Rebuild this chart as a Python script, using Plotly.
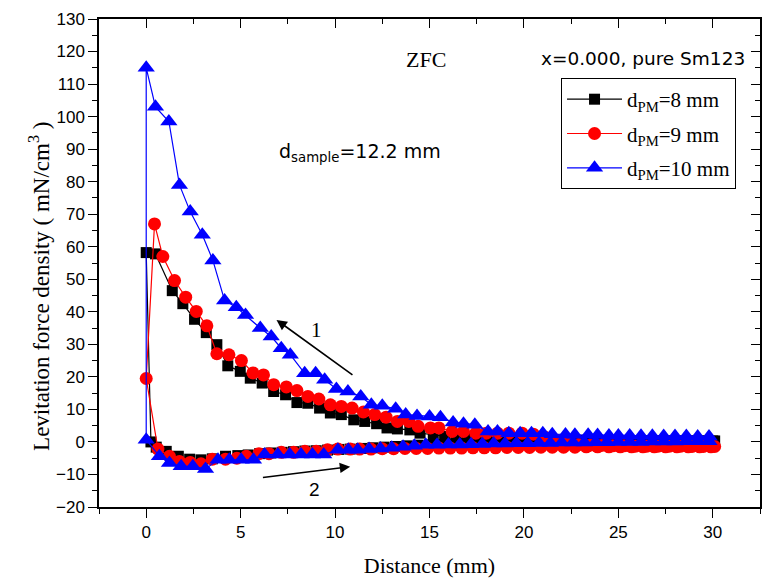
import plotly.graph_objects as go

# Levitation force density vs. distance, ZFC, three permanent-magnet gaps.
# Each curve: approach branch (30 mm -> 0) followed by the return branch (0 -> 30 mm).

# d_PM = 8 mm
pm8_approach_dist = [0.0, 0.49, 1.38, 1.94, 2.56, 3.18, 3.74, 4.32, 4.98, 5.51, 6.14, 6.75, 7.38,
                     7.98, 8.56, 9.18, 9.75, 10.33, 10.99, 11.57, 12.2, 12.75, 13.3, 13.96, 14.5,
                     15.2, 15.8, 16.4, 17.0, 17.6, 18.2, 18.8, 19.4, 20.0, 20.6, 21.2, 21.8, 22.4,
                     23.0, 23.6, 24.2, 24.8, 25.4, 26.0, 26.6, 27.2, 27.8, 28.4, 29.0, 29.6, 30.1]
pm8_approach_force = [58.2, 57.8, 46.5, 42.5, 37.7, 33.6, 29.9, 23.4, 21.7, 19.6, 18.1, 15.5, 14.5,
                      12.1, 11.9, 10.4, 8.9, 8.4, 6.8, 6.3, 5.6, 4.3, 4.0, 3.7, 2.7,
                      2.2, 1.7, 1.7, 1.4, 1.2, 1.0, 0.9, 0.8, 0.7, 0.6, 0.6, 0.5, 0.5,
                      0.5, 0.4, 0.4, 0.4, 0.4, 0.3, 0.3, 0.3, 0.3, 0.3, 0.3, 0.3, 0.3]
pm8_return_dist = [0.25, 0.53, 1.06, 1.7, 2.3, 2.9, 3.5, 4.2, 4.85, 5.4, 6.0, 6.6, 7.2, 7.8, 8.4,
                   9.0, 9.6, 10.2, 10.8, 11.4, 12.0, 12.6, 13.2, 13.8, 14.4, 15.0, 15.6, 16.2,
                   16.8, 17.4, 18.0, 18.6, 19.2, 19.8, 20.4, 21.0, 21.6, 22.2, 22.8, 23.4, 24.0,
                   24.6, 25.2, 25.8, 26.4, 27.0, 27.6, 28.2, 28.8, 29.4, 30.0]
pm8_return_force = [0.0, -1.6, -2.9, -4.4, -5.3, -5.5, -5.2, -4.4, -4.2, -4.0, -3.6, -3.4, -3.2,
                    -3.0, -2.8, -2.7, -2.5, -2.3, -2.2, -2.0, -1.8, -1.6, -1.4, -1.2, -1.0, -0.9,
                    -0.8, -0.6, -0.5, -0.4, -0.3, -0.2, 0.0, 0.1, 0.1, 0.2, 0.2, 0.2, 0.3, 0.3,
                    0.3, 0.3, 0.3, 0.3, 0.3, 0.3, 0.3, 0.3, 0.3, 0.3, 0.3]

# d_PM = 9 mm
pm9_approach_dist = [0.0, 0.44, 0.88, 1.5, 2.09, 2.65, 3.21, 3.74, 4.38, 5.04, 5.65, 6.21, 6.75,
                     7.42, 7.98, 8.56, 9.14, 9.75, 10.33, 10.9, 11.5, 12.1, 12.7, 13.3, 13.9,
                     14.4, 15.05, 15.5, 16.2, 16.8, 17.45, 18.0, 18.6, 19.2, 19.9, 20.5, 21.1,
                     21.7, 22.3, 22.9, 23.5, 24.1, 24.7, 25.3, 25.9, 26.5, 27.1, 27.7, 28.3,
                     28.9, 29.5, 30.1]
pm9_approach_force = [19.5, 67.0, 57.0, 49.6, 44.5, 40.1, 35.7, 27.1, 26.8, 25.0, 21.2, 20.6, 17.6,
                      16.9, 15.8, 14.0, 13.2, 11.4, 10.9, 10.4, 9.2, 8.4, 7.6, 6.3, 6.3,
                      4.8, 4.3, 4.3, 3.2, 3.2, 2.7, 2.7, 2.7, 2.7, 2.7, 2.4, 1.5,
                      0.5, -0.3, -0.8, -1.0, -1.1, -1.2, -1.2, -1.3, -1.3, -1.3, -1.3, -1.3,
                      -1.4, -1.4, -1.4]
pm9_return_dist = [0.62, 1.23, 1.76, 2.33, 2.9, 3.5, 4.2, 4.8, 5.3, 5.97, 6.5, 7.15, 7.8, 8.4,
                   9.0, 9.6, 10.15, 10.8, 11.3, 11.9, 12.5, 13.1, 13.7, 14.3, 14.9, 15.5, 16.1,
                   16.7, 17.3, 17.9, 18.5, 19.1, 19.7, 20.3, 20.9, 21.5, 22.1, 22.7, 23.3, 23.9,
                   24.5, 25.1, 25.7, 26.3, 26.9, 27.5, 28.1, 28.7, 29.3, 29.9]
pm9_return_force = [-2.2, -4.4, -6.0, -6.3, -6.7, -5.3, -5.3, -5.0, -4.4, -3.6, -3.6, -3.2, -3.2,
                    -2.9, -2.9, -2.4, -2.2, -2.2, -2.2, -2.2, -2.1, -2.1, -2.0, -2.0, -2.0, -1.9,
                    -1.9, -1.9, -1.8, -1.8, -1.8, -1.7, -1.7, -1.7, -1.6, -1.6, -1.6, -1.6, -1.5,
                    -1.5, -1.5, -1.5, -1.5, -1.5, -1.5, -1.5, -1.5, -1.5, -1.5, -1.5]

# d_PM = 10 mm
pm10_approach_dist = [0.0, 0.49, 1.2, 1.76, 2.33, 2.97, 3.53, 4.15, 4.77, 5.26, 6.04, 6.62, 7.15,
                      7.63, 8.39, 8.97, 9.45, 10.07, 10.68, 11.36, 11.92, 12.5, 13.21, 13.74,
                      14.34, 15.0, 15.58, 16.25, 16.8, 17.4, 18.1, 18.6, 19.2, 19.8, 20.4, 21.0,
                      21.5, 22.2, 22.7, 23.4, 23.9, 24.5, 25.0, 25.6, 26.2, 26.8, 27.4, 28.0,
                      28.6, 29.2, 29.8]
pm10_approach_force = [115.0, 103.0, 98.5, 79.0, 70.8, 63.7, 55.8, 43.5, 41.4, 39.0, 35.0, 32.4,
                       28.8, 26.8, 21.1, 21.1, 19.1, 16.3, 15.5, 14.0, 11.4, 11.1, 10.2, 8.4,
                       8.0, 7.8, 7.6, 6.0, 5.6, 5.3, 3.2, 3.2, 2.7, 2.7, 2.7, 2.7,
                       2.4, 2.3, 2.2, 2.2, 2.1, 2.0, 2.0, 2.0, 1.9, 1.9, 1.8, 1.8,
                       1.8, 1.7, 1.7]
pm10_return_dist = [0.0, 0.7, 1.23, 1.85, 2.47, 3.14, 3.8, 4.4, 5.03, 5.68, 6.27, 6.97, 7.6, 8.2,
                    8.8, 9.4, 10.15, 10.7, 11.2, 11.8, 12.4, 13.0, 13.6, 14.2, 14.8, 15.4,
                    16.0, 16.6, 17.2, 17.8, 18.4, 19.0, 19.6, 20.2, 20.8, 21.4, 22.0, 22.6,
                    23.2, 23.8, 24.4, 25.0, 25.6, 26.2, 26.8, 27.4, 28.0, 28.6, 29.2, 29.8]
pm10_return_force = [0.7, -4.4, -6.5, -7.5, -7.5, -8.3, -5.5, -5.5, -5.5, -5.5, -3.9, -3.9, -3.9,
                     -3.9, -3.9, -3.9, -2.4, -2.4, -2.4, -2.2, -2.0, -1.8, -1.5, -1.2, -0.9,
                     -0.9, -0.8, -0.8, -0.7, -0.6, -0.5, -0.5, -0.4, -0.4, -0.3, -0.3, -0.2,
                     -0.2, -0.2, -0.1, -0.1, 0.0, 0.0, 0.0, 0.1, 0.1, 0.1, 0.2, 0.2, 0.2]

series = [
    ("d<sub>PM</sub>=8 mm", pm8_approach_dist, pm8_approach_force,
     pm8_return_dist, pm8_return_force, "#000000", "square", 11),
    ("d<sub>PM</sub>=9 mm", pm9_approach_dist, pm9_approach_force,
     pm9_return_dist, pm9_return_force, "#ff0000", "circle", 13),
    ("d<sub>PM</sub>=10 mm", pm10_approach_dist, pm10_approach_force,
     pm10_return_dist, pm10_return_force, "#0000ff", "triangle-up", 15),
]

SERIF = "Liberation Serif, Times New Roman, serif"
SANS = "Liberation Sans, Arial, sans-serif"
VSANS = "DejaVu Sans, Verdana, sans-serif"

fig = go.Figure()
for i, (name, ad, af, rd, rf, color, symbol, size) in enumerate(series):
    xs = list(reversed(ad)) + list(rd)
    ys = list(reversed(af)) + list(rf)
    fig.add_trace(go.Scatter(
        x=xs, y=ys, name=name, mode="lines+markers", legendgroup=f"g{i}",
        line=dict(color=color, width=1.2),
        marker=dict(symbol=symbol, size=size, color=color, line=dict(width=0)),
    ))

# empty trace so the mirrored top/right axes are drawn
fig.add_trace(go.Scatter(x=[None], y=[None], xaxis="x2", yaxis="y2", showlegend=False))

axis_common = dict(showgrid=False, zeroline=False, showline=True, linecolor="black",
                   linewidth=1.5, tickcolor="black", tickwidth=1.2)

fig.update_layout(
    width=763, height=582,
    margin=dict(l=99, r=3, t=19, b=75),
    plot_bgcolor="white", paper_bgcolor="white",
    showlegend=True,
    legend=dict(x=0.699, y=0.879, xanchor="left", yanchor="top",
                bordercolor="black", borderwidth=1, bgcolor="white",
                font=dict(family=SERIF, size=21, color="black"),
                itemwidth=55, tracegroupgap=4),
    xaxis=dict(range=[-2.5, 32.5], tickvals=[0, 5, 10, 15, 20, 25, 30],
               ticks="outside", ticklen=9,
               minor=dict(dtick=2.5, tick0=0, ticks="outside", ticklen=5, tickcolor="black"),
               tickfont=dict(family=SANS, size=17, color="black"),
               title=dict(text="Distance (mm)", font=dict(family=SERIF, size=22, color="black"),
                          standoff=16),
               **axis_common),
    yaxis=dict(range=[-20, 130], dtick=10, tick0=0,
               ticks="outside", ticklen=9,
               minor=dict(dtick=5, ticks="outside", ticklen=5, tickcolor="black"),
               tickfont=dict(family=SANS, size=17, color="black"),
               **axis_common),
    xaxis2=dict(range=[-2.5, 32.5], overlaying="x", side="top", anchor="y",
                tickvals=[0, 5, 10, 15, 20, 25, 30], ticks="inside", ticklen=9,
                minor=dict(dtick=2.5, tick0=0, ticks="inside", ticklen=5, tickcolor="black"),
                showticklabels=False, **axis_common),
    yaxis2=dict(range=[-20, 130], overlaying="y", side="right", anchor="x",
                dtick=10, tick0=0, ticks="inside", ticklen=9,
                minor=dict(dtick=5, ticks="inside", ticklen=5, tickcolor="black"),
                showticklabels=False, **axis_common),
)

# y-axis title, placed slightly below the axis centre
fig.add_annotation(x=-0.0893, y=0.453, xref="paper", yref="paper", textangle=-90,
                   text="Levitation force density ( mN/cm<sup>3</sup> )", showarrow=False,
                   xanchor="center", yanchor="middle",
                   font=dict(family=SERIF, size=23, color="black"))

# direction arrows: 1 = approach, 2 = return
fig.add_annotation(x=6.9, y=37.5, ax=11.0, ay=20.3, xref="x", yref="y", axref="x", ayref="y",
                   text="", showarrow=True, arrowhead=2, arrowsize=1.3, arrowwidth=1.6,
                   arrowcolor="black")
fig.add_annotation(x=10.8, y=-7.6, ax=6.1, ay=-11.0, xref="x", yref="y", axref="x", ayref="y",
                   text="", showarrow=True, arrowhead=2, arrowsize=1.3, arrowwidth=1.6,
                   arrowcolor="black")

texts = [
    (9.0, 34.4, "1", SERIF, 21),
    (8.9, -14.7, "2", SANS, 19),
    (14.8, 117.5, "ZFC", SERIF, 22),
    (26.3, 118.0, "x=0.000, pure Sm123", VSANS, 18.5),
    (11.3, 89.0, "d<sub>sample</sub>=12.2 mm", VSANS, 19),
]
for x, y, t, fam, sz in texts:
    fig.add_annotation(x=x, y=y, xref="x", yref="y", text=t, showarrow=False,
                       font=dict(family=fam, size=sz, color="black"))

fig.write_html("out.html")
